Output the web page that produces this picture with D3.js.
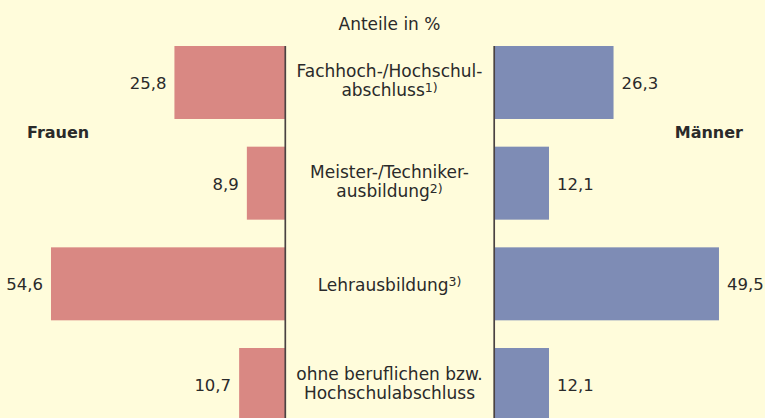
<!DOCTYPE html>
<html>
<head>
<meta charset="utf-8">
<script src="https://cdn.jsdelivr.net/npm/d3@7"></script>
<style>
  body { margin: 0; background: #fffcdb; }
  svg { display: block; font-family: "DejaVu Sans", sans-serif; }
</style>
</head>
<body>
<script>
// data
const categories = ["Fachhoch-/Hochschulabschluss", "Meister-/Technikerausbildung", "Lehrausbildung", "ohne beruflichen bzw. Hochschulabschluss"];
const labelLines = [["Fachhoch-/Hochschul-", "abschluss"], ["Meister-/Techniker-", "ausbildung"], ["Lehrausbildung"], ["ohne beruflichen bzw.", "Hochschulabschluss"]];
const footnotes = ["1)", "2)", "3)", ""];
const frauen = [25.8, 8.9, 54.6, 10.7];
const maenner = [26.3, 12.1, 49.5, 12.1];
const fmt = v => d3.format(".1f")(v).replace(".", ",");

const width = 765, height = 418;
const leftEdge = 285, rightEdge = 494;
const center = (leftEdge + rightEdge) / 2;

const svg = d3.select("body").append("svg")
    .attr("width", width)
    .attr("height", height);

svg.append("rect").attr("width", width).attr("height", height).attr("fill", "#fffcdb");

// scales
const y = d3.scaleBand()
    .domain(categories)
    .range([46, 421])
    .paddingInner(0.275)
    .paddingOuter(0);

const xL = d3.scaleLinear().domain([0, 60]).range([leftEdge, leftEdge - 60 * 4.286]);
const xR = d3.scaleLinear().domain([0, 60]).range([rightEdge, rightEdge + 60 * 4.545]);

// bars Frauen
svg.selectAll(".bar-f")
  .data(frauen)
  .enter().append("rect")
    .attr("class", "bar-f")
    .attr("x", d => xL(d))
    .attr("y", (d, i) => y(categories[i]))
    .attr("width", d => xL(0) - xL(d))
    .attr("height", y.bandwidth())
    .attr("fill", "#d98883");

// bars Maenner
svg.selectAll(".bar-m")
  .data(maenner)
  .enter().append("rect")
    .attr("class", "bar-m")
    .attr("x", xR(0))
    .attr("y", (d, i) => y(categories[i]))
    .attr("width", d => xR(d) - xR(0))
    .attr("height", y.bandwidth())
    .attr("fill", "#7e8cb5");

// vertical lines
[leftEdge + 0.3, rightEdge + 0.2].forEach(x => {
  svg.append("line")
    .attr("x1", x).attr("x2", x)
    .attr("y1", y(categories[0])).attr("y2", height)
    .attr("stroke", "#4a4242")
    .attr("stroke-width", 1.7);
});

// value labels
svg.selectAll(".val-f")
  .data(frauen)
  .enter().append("text")
    .attr("x", d => xL(d) - 8)
    .attr("y", (d, i) => y(categories[i]) + y.bandwidth() / 2 + 6.5)
    .attr("text-anchor", "end")
    .attr("font-size", 16.5)
    .attr("fill", "#2a2a2a")
    .text(fmt);

svg.selectAll(".val-m")
  .data(maenner)
  .enter().append("text")
    .attr("x", d => xR(d) + 8)
    .attr("y", (d, i) => y(categories[i]) + y.bandwidth() / 2 + 6.5)
    .attr("font-size", 16.5)
    .attr("fill", "#2a2a2a")
    .text(fmt);

// category labels in the middle
categories.forEach((c, i) => {
  const lines = labelLines[i];
  const mid = y(c) + y.bandwidth() / 2;
  const t = svg.append("text")
    .attr("text-anchor", "middle")
    .attr("font-size", 17)
    .attr("fill", "#2a2a2a");
  lines.forEach((ln, j) => {
    const base = lines.length === 1 ? mid + 7 : mid - 5 + j * 19;
    t.append("tspan").attr("x", center).attr("y", base).text(ln);
    if (j === lines.length - 1 && footnotes[i]) {
      t.append("tspan")
        .attr("dy", -4.5)
        .attr("font-size", 12.5)
        .text(footnotes[i]);
    }
  });
});

// title and side captions
svg.append("text")
    .attr("x", center).attr("y", 30)
    .attr("text-anchor", "middle")
    .attr("font-size", 17)
    .attr("fill", "#2a2a2a")
    .text("Anteile in %");

svg.append("text")
    .attr("x", 27).attr("y", 138)
    .attr("font-size", 16)
    .attr("font-weight", "bold")
    .attr("fill", "#2a2a2a")
    .text("Frauen");

svg.append("text")
    .attr("x", 743).attr("y", 138)
    .attr("text-anchor", "end")
    .attr("font-size", 16)
    .attr("font-weight", "bold")
    .attr("fill", "#2a2a2a")
    .text("Männer");
</script>
</body>
</html>
